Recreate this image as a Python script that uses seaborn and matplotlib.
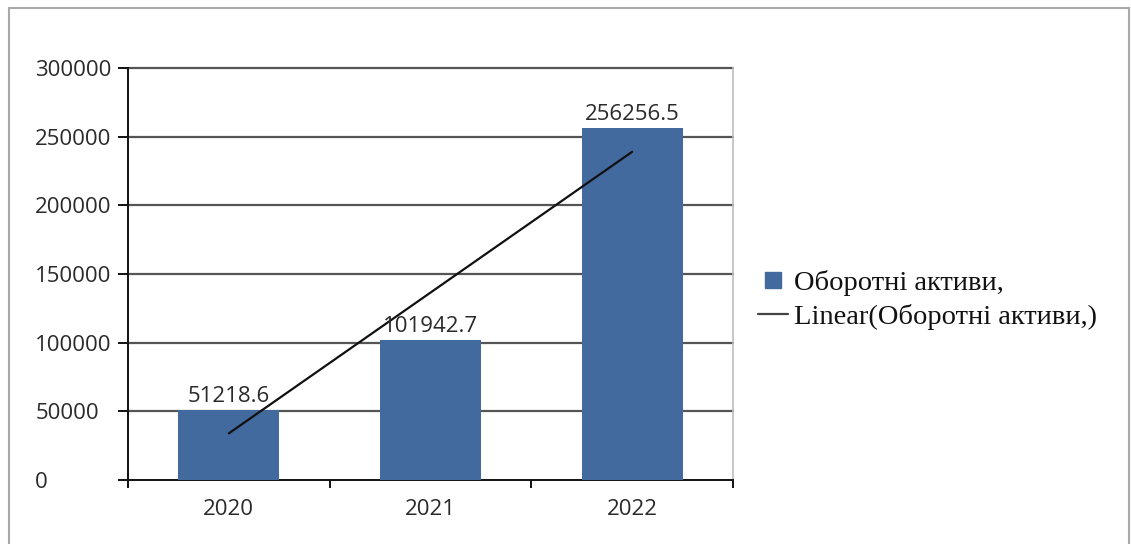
import numpy as np
import pandas as pd
import matplotlib
matplotlib.use("Agg")
import matplotlib.pyplot as plt
from matplotlib.lines import Line2D
from matplotlib.patches import Rectangle
from matplotlib.ticker import FixedLocator
import seaborn as sns

# Data
years = ["2020", "2021", "2022"]
current_assets = [51218.6, 101942.7, 256256.5]
series_label = "Оборотні активи,"
trend_label = "Linear(Оборотні активи,)"
y_ticks = [0, 50000, 100000, 150000, 200000, 250000, 300000]

bar_color = "#436a9e"
grid_color = "#555555"
text_color = "#2a2a2a"

sns.set_theme(style="white")
plt.rcParams["font.family"] = ["Open Sans", "DejaVu Sans"]

df = pd.DataFrame({"year": years, "value": current_assets})

fig = plt.figure(figsize=(11.31, 5.44), dpi=100)
ax = fig.add_axes([128 / 1131, 64 / 544, 605 / 1131, 412 / 544])

sns.barplot(data=df, x="year", y="value", color=bar_color, saturation=1,
            width=0.5, linewidth=0, ax=ax, zorder=3)

# Least-squares trend line through the bar values
xs = np.arange(len(current_assets))
slope, intercept = np.polyfit(xs, current_assets, 1)
ax.plot(xs, slope * xs + intercept, color="#111111", lw=1.6, zorder=4)

# Value labels above the bars
ax.bar_label(ax.containers[0], fmt="%.1f", padding=2, fontsize=16,
             color=text_color, zorder=5)

ax.set_xlim(-0.5, len(years) - 0.5)
ax.set_ylim(0, 300000)
ax.set_yticks(y_ticks)
ax.set_yticklabels([str(t) for t in y_ticks], ha="left")
ax.set_xlabel("")
ax.set_ylabel("")

# Horizontal gridlines
for t in y_ticks[1:]:
    ax.axhline(t, color=grid_color, lw=1.6, zorder=1, clip_on=False)

# Axes lines and ticks
for side in ["left", "bottom"]:
    ax.spines[side].set_color("#111111")
    ax.spines[side].set_linewidth(1.4)
ax.spines["top"].set_visible(False)
ax.spines["right"].set_color("#bdbdbd")
ax.spines["right"].set_linewidth(1.2)

ax.tick_params(axis="y", direction="out", length=7.2, width=1.4,
               color="#111111", labelsize=16, labelcolor=text_color, pad=59.5,
               left=True)
ax.tick_params(axis="x", which="major", length=0, labelsize=16,
               labelcolor=text_color, pad=14)
ax.xaxis.set_minor_locator(FixedLocator(np.arange(-0.5, len(years), 1.0)))
ax.tick_params(axis="x", which="minor", direction="out", length=6, width=1.4,
               color="#111111", bottom=True)

# Legend
handles = [
    Line2D([], [], marker="s", color=bar_color, linestyle="none", markersize=11.5),
    Line2D([], [], color="#444444", lw=1.6),
]
leg = fig.legend(handles, [series_label, trend_label], loc="center left",
                 bbox_to_anchor=(758 / 1131, 1 - 300 / 544), frameon=False,
                 prop={"family": "Liberation Serif", "size": 20.5},
                 handlelength=1.05, handletextpad=0.2, labelspacing=0.3,
                 borderaxespad=0, borderpad=0)
for txt in leg.get_texts():
    txt.set_color("#111111")

# Outer frame around the chart area
fig.patches.append(Rectangle((9 / 1131, -0.2), 1120 / 1131, 1.2 - 8 / 544,
                             transform=fig.transFigure, fill=False,
                             edgecolor="#a8a8a8", lw=1.5))

fig.savefig("out.png", dpi=100)
